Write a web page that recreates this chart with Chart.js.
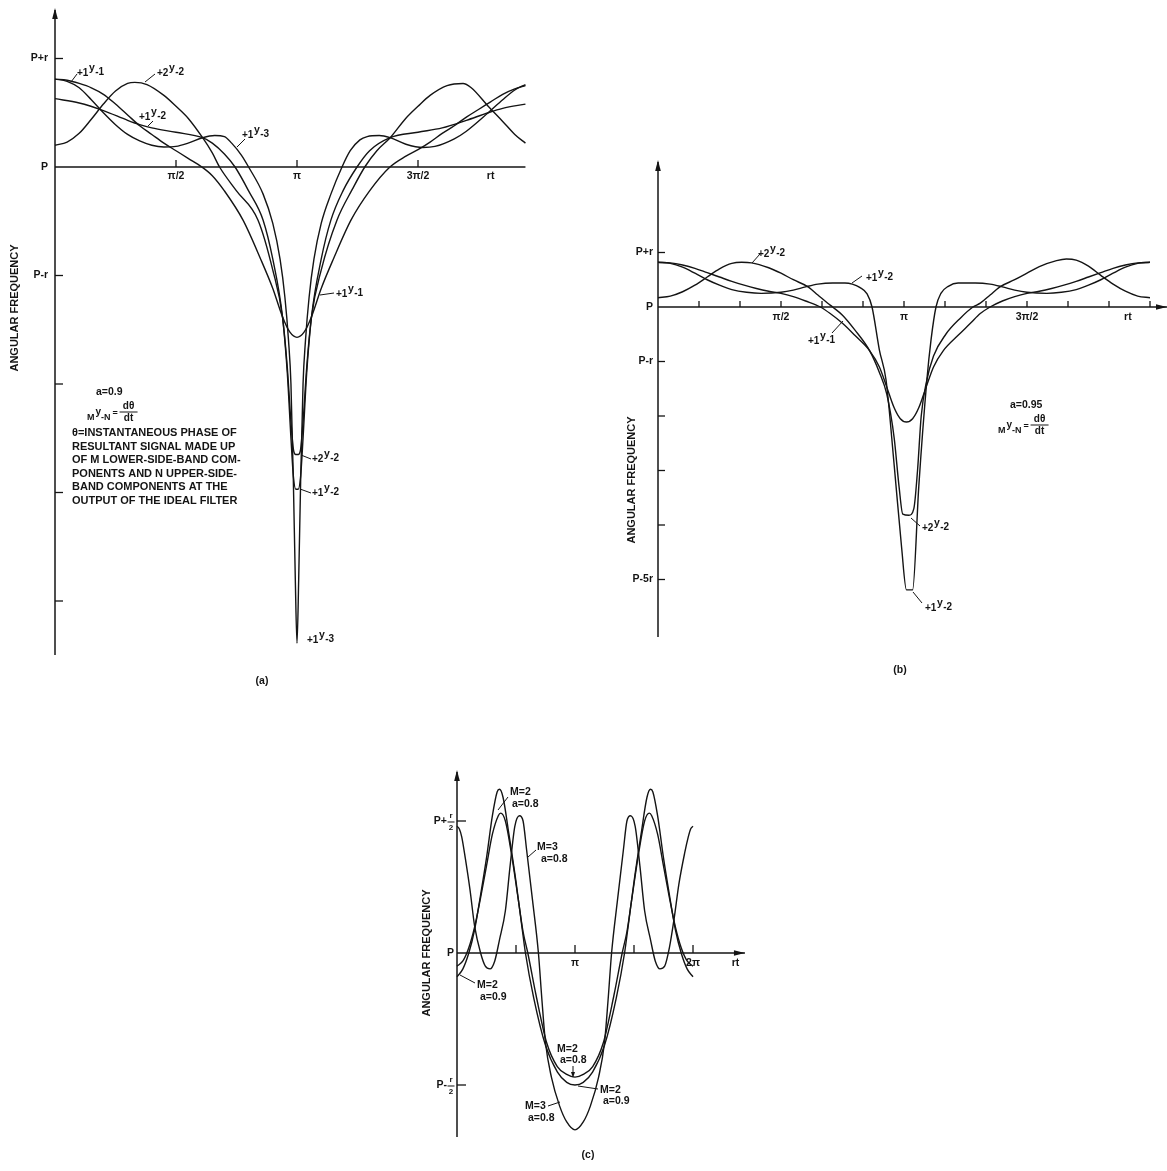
<!DOCTYPE html>
<html><head><meta charset="utf-8">
<script src="https://cdn.jsdelivr.net/npm/chart.js@4.4.1/dist/chart.umd.min.js"></script>
<style>
html,body{margin:0;padding:0;background:#fff;width:1167px;height:1171px;overflow:hidden;}
canvas{position:absolute;}
</style></head><body>
<canvas id="ca" width="560" height="700" style="left:0;top:0"></canvas>
<canvas id="cb" width="567" height="560" style="left:600px;top:140px"></canvas>
<canvas id="cc" width="360" height="411" style="left:400px;top:760px"></canvas>
<script>
// ===== Panel (a): a = 0.9  (x in units of pi, y in units of r about P) =====
const a_t_y11 = [0,0.05,0.1,0.15,0.2,0.25,0.3,0.35,0.4,0.45,0.5,0.55,0.607,0.65,0.7,0.777,0.85,0.9,0.94,0.97,1.0,1.03,1.06,1.1,1.15,1.223,1.3,1.384,1.45,1.5,1.55,1.6,1.65,1.7,1.75,1.8,1.85,1.9,1.944];
const a_v_y11 = [0.81,0.80,0.77,0.73,0.67,0.58,0.48,0.38,0.30,0.22,0.15,0.08,0.0,-0.08,-0.22,-0.49,-0.85,-1.12,-1.38,-1.52,-1.57,-1.52,-1.38,-1.12,-0.85,-0.49,-0.22,0.0,0.1,0.16,0.23,0.31,0.38,0.46,0.53,0.6,0.67,0.72,0.75];
const a_t_y12 = [0,0.1,0.2,0.3,0.35,0.4,0.5,0.61,0.65,0.7,0.744,0.8,0.86,0.9,0.94,0.96,0.975,0.985,0.995,1.005,1.015,1.025,1.04,1.06,1.1,1.14,1.19,1.248,1.3,1.385,1.5,1.6,1.7,1.79,1.85,1.944];
const a_v_y12 = [0.63,0.59,0.52,0.43,0.39,0.36,0.32,0.27,0.22,0.12,0.0,-0.22,-0.49,-0.85,-1.38,-1.9,-2.5,-2.85,-2.97,-2.97,-2.85,-2.5,-1.9,-1.38,-0.85,-0.49,-0.22,0.0,0.15,0.27,0.32,0.36,0.43,0.5,0.54,0.58];
const a_t_y22 = [0,0.05,0.1,0.15,0.2,0.25,0.3,0.33,0.38,0.45,0.5,0.55,0.61,0.65,0.68,0.75,0.839,0.9,0.94,0.96,0.975,0.985,0.995,1.005,1.015,1.025,1.04,1.06,1.1,1.165,1.23,1.28,1.33,1.385,1.45,1.5,1.55,1.62,1.686,1.72,1.79,1.85,1.9,1.944];
const a_v_y22 = [0.2,0.23,0.31,0.44,0.58,0.7,0.77,0.78,0.76,0.66,0.56,0.45,0.27,0.13,0.0,-0.22,-0.49,-0.95,-1.38,-1.85,-2.35,-2.6,-2.65,-2.65,-2.6,-2.35,-1.85,-1.38,-0.95,-0.49,-0.2,0.0,0.15,0.27,0.45,0.56,0.66,0.75,0.77,0.73,0.56,0.42,0.3,0.22];
const a_t_y13 = [0,0.05,0.1,0.15,0.2,0.25,0.3,0.35,0.4,0.45,0.5,0.55,0.61,0.66,0.7,0.73,0.77,0.8,0.86,0.9,0.93,0.95,0.965,0.975,0.985,0.993,1.0,1.007,1.015,1.025,1.035,1.05,1.07,1.1,1.14,1.186,1.22,1.26,1.29,1.34,1.385,1.45,1.52,1.57,1.65,1.7,1.79,1.85,1.9,1.944];
const a_v_y13 = [0.81,0.79,0.73,0.62,0.5,0.39,0.3,0.24,0.2,0.185,0.19,0.22,0.27,0.29,0.28,0.22,0.11,0.0,-0.25,-0.52,-0.85,-1.2,-1.6,-2.0,-2.9,-3.8,-4.39,-3.8,-2.9,-2.0,-1.6,-1.2,-0.85,-0.52,-0.25,0.0,0.15,0.25,0.28,0.29,0.27,0.21,0.18,0.19,0.26,0.33,0.5,0.62,0.71,0.76];
const a_xTicks = [0.5,1,1.5];
const a_xLabels = ['π/2','π','3π/2'];
const a_yTicks = [1,0,-1,-2,-3,-4];
const a_yLabels = ['P+r','P','P-r','','',''];

// ===== Panel (b): a = 0.95 =====
const b_t_y11 = [0,0.05,0.1,0.15,0.2,0.25,0.3,0.35,0.4,0.45,0.5,0.55,0.6,0.66,0.7,0.75,0.8,0.86,0.9,0.93,0.96,0.985,1.01,1.035,1.06,1.09,1.12,1.16,1.22,1.27,1.31,1.35,1.4,1.45,1.5,1.55,1.6,1.65,1.7,1.75,1.8,1.85,1.9,1.95,2.0];
const b_v_y11 = [0.82,0.81,0.77,0.71,0.63,0.55,0.47,0.4,0.34,0.29,0.25,0.19,0.11,0.0,-0.12,-0.3,-0.52,-0.8,-1.1,-1.47,-1.85,-2.05,-2.11,-2.05,-1.85,-1.47,-1.1,-0.8,-0.52,-0.3,-0.12,0.0,0.11,0.19,0.25,0.29,0.34,0.4,0.47,0.55,0.63,0.71,0.77,0.81,0.82];
const b_t_y12 = [0,0.05,0.1,0.15,0.2,0.25,0.3,0.36,0.42,0.5,0.55,0.6,0.65,0.71,0.76,0.79,0.82,0.85,0.87,0.9,0.927,0.96,0.99,1.01,1.035,1.06,1.093,1.11,1.13,1.15,1.18,1.22,1.29,1.35,1.4,1.45,1.5,1.58,1.64,1.7,1.75,1.8,1.85,1.9,1.95,2.0];
const b_v_y12 = [0.82,0.8,0.73,0.62,0.5,0.4,0.32,0.27,0.25,0.27,0.31,0.37,0.42,0.44,0.44,0.42,0.36,0.24,0.0,-0.79,-1.34,-2.9,-4.4,-5.19,-5.19,-3.3,-1.34,-0.6,0.0,0.25,0.38,0.44,0.44,0.42,0.37,0.31,0.27,0.25,0.27,0.32,0.4,0.5,0.62,0.73,0.8,0.82];
const b_t_y22 = [0,0.05,0.1,0.15,0.2,0.25,0.3,0.34,0.38,0.45,0.5,0.55,0.61,0.65,0.69,0.71,0.75,0.8,0.86,0.9,0.93,0.96,0.98,0.995,1.02,1.04,1.055,1.07,1.09,1.12,1.17,1.23,1.28,1.31,1.35,1.39,1.45,1.5,1.55,1.62,1.66,1.7,1.75,1.8,1.85,1.9,1.95,2.0];
const b_v_y22 = [0.17,0.2,0.28,0.4,0.55,0.7,0.8,0.82,0.81,0.72,0.62,0.5,0.37,0.22,0.07,0.0,-0.15,-0.42,-0.8,-1.2,-1.6,-2.4,-3.3,-3.8,-3.82,-3.7,-3.0,-2.0,-1.4,-0.9,-0.5,-0.2,0.0,0.07,0.22,0.37,0.5,0.62,0.74,0.85,0.88,0.86,0.75,0.58,0.42,0.29,0.2,0.17];
const b_xTicks = [1/6,2/6,3/6,4/6,5/6,1,7/6,8/6,9/6,10/6,11/6,2];
const b_xLabels = ['','','π/2','','','π','','','3π/2','','',''];
const b_yTicks = [1,0,-1,-2,-3,-4,-5];
const b_yLabels = ['P+r','P','P-r','','','','P-5r'];

// ===== Panel (c) =====
const c_t_m3a08 = [0,0.02,0.04,0.07,0.11,0.15,0.2,0.24,0.28,0.32,0.36,0.41,0.45,0.49,0.53,0.56,0.59,0.64,0.69,0.72,0.75,0.8,0.87,0.93,1.0,1.07,1.13,1.2,1.25,1.28,1.31,1.36,1.41,1.44,1.47,1.51,1.55,1.59,1.64,1.68,1.72,1.76,1.8,1.84,1.88,1.93,1.96,1.98,2.0];
const c_v_m3a08 = [0.48,0.47,0.44,0.36,0.24,0.1,0.0,-0.05,-0.06,-0.03,0.05,0.16,0.33,0.48,0.52,0.5,0.39,0.2,0.0,-0.18,-0.34,-0.47,-0.58,-0.64,-0.67,-0.64,-0.58,-0.47,-0.34,-0.18,0.0,0.2,0.39,0.5,0.52,0.48,0.33,0.16,0.05,-0.03,-0.06,-0.05,0.02,0.13,0.26,0.38,0.44,0.47,0.48];
const c_t_m2a09 = [0,0.05,0.1,0.15,0.2,0.25,0.3,0.34,0.36,0.39,0.44,0.5,0.55,0.58,0.65,0.75,0.85,0.93,1.0,1.07,1.15,1.25,1.35,1.42,1.45,1.5,1.56,1.61,1.64,1.66,1.7,1.75,1.8,1.85,1.9,1.95,2.0];
const c_v_m2a09 = [-0.09,-0.06,0.0,0.09,0.22,0.36,0.52,0.61,0.62,0.59,0.45,0.27,0.1,0.0,-0.17,-0.35,-0.45,-0.49,-0.5,-0.49,-0.45,-0.35,-0.17,0.0,0.1,0.27,0.45,0.59,0.62,0.61,0.52,0.36,0.22,0.09,0.0,-0.06,-0.09];
const c_t_m2a08 = [0,0.05,0.1,0.15,0.2,0.25,0.3,0.35,0.37,0.41,0.46,0.52,0.56,0.6,0.67,0.76,0.85,0.93,1.0,1.07,1.15,1.24,1.33,1.4,1.44,1.48,1.54,1.59,1.63,1.65,1.7,1.75,1.8,1.85,1.9,1.95,2.0];
const c_v_m2a08 = [-0.05,-0.03,0.02,0.1,0.21,0.33,0.45,0.52,0.53,0.5,0.38,0.2,0.08,0.0,-0.16,-0.34,-0.43,-0.46,-0.47,-0.46,-0.43,-0.34,-0.16,0.0,0.08,0.2,0.38,0.5,0.53,0.52,0.45,0.33,0.21,0.1,0.02,-0.03,-0.05];
const c_xTicks = [0.5,1,1.5,2];
const c_xLabels = ['','π','','2π'];
const c_yTicks = [0.5,0,-0.5];

const INK = '#141414';
const F = (s)=>'bold '+s+'px "Liberation Sans", Arial, sans-serif';

function pts(ts, vs){ return ts.map((t,i)=>({x:t, y:vs[i]})); }
function ds(ts, vs, label){
  return {label, data:pts(ts,vs), showLine:true, borderColor:INK, borderWidth:1.4,
    pointRadius:0, pointHoverRadius:0, cubicInterpolationMode:'monotone', clip:false, fill:false};
}
function seg(ctx,x1,y1,x2,y2,w){ ctx.lineWidth=w||1; ctx.beginPath(); ctx.moveTo(x1,y1); ctx.lineTo(x2,y2); ctx.stroke(); }
function txt(ctx,s,x,y,size,align){ ctx.font=F(size||10.5); ctx.textAlign=align||'left'; ctx.textBaseline='middle'; ctx.fillText(s,x,y); }
function yLab(ctx,pre,post,x,y){
  ctx.font=F(10); ctx.textAlign='left'; ctx.textBaseline='alphabetic';
  ctx.fillText(pre,x,y); const w=ctx.measureText(pre).width;
  ctx.font=F(10.5); ctx.fillText('y',x+w+0.5,y-5); const wy=ctx.measureText('y').width;
  ctx.font=F(10); ctx.fillText(post,x+w+wy+1,y-1);
}
function frac(ctx,num,den,cx,cy,w,size){
  txt(ctx,num,cx,cy-6,size,'center'); seg(ctx,cx-w/2,cy,cx+w/2,cy,1); txt(ctx,den,cx,cy+6,size,'center');
}
function arrowUp(ctx,x,y){ ctx.beginPath(); ctx.moveTo(x,y); ctx.lineTo(x-2.8,y+11); ctx.lineTo(x+2.8,y+11); ctx.closePath(); ctx.fill(); }
function arrowRight(ctx,x,y){ ctx.beginPath(); ctx.moveTo(x,y); ctx.lineTo(x-11,y-2.8); ctx.lineTo(x-11,y+2.8); ctx.closePath(); ctx.fill(); }
function vtext(ctx,s,x,y,size){ ctx.save(); ctx.translate(x,y); ctx.rotate(-Math.PI/2); txt(ctx,s,0,0,size,'center'); ctx.restore(); }
function formula(ctx,x,y){ // M y-N = dθ/dt  (x,y = baseline-centre of "M")
  ctx.font=F(9); ctx.textAlign='left'; ctx.textBaseline='middle';
  ctx.fillText('M',x,y); let w=ctx.measureText('M').width;
  ctx.font=F(10); ctx.fillText('y',x+w+1,y-6); let wy=ctx.measureText('y').width;
  ctx.font=F(9); ctx.fillText('-N',x+w+wy+1,y); let wn=ctx.measureText('-N').width;
  const ex=x+w+wy+wn+3; ctx.fillText('=',ex,y-4);
  frac(ctx,'dθ','dt',ex+16,y-6,18,10);
}

function makeChart(id, off, pad, xr, yr, datasets, axes, notes){
  return new Chart(document.getElementById(id), {
    type:'scatter', data:{datasets},
    options:{responsive:false, animation:false, devicePixelRatio:1, events:[],
      layout:{padding:pad},
      plugins:{legend:{display:false}, tooltip:{enabled:false}},
      scales:{x:{type:'linear', min:xr[0], max:xr[1], display:false},
              y:{type:'linear', min:yr[0], max:yr[1], display:false}}},
    plugins:[{id:'deco'+id,
      beforeDatasetsDraw(chart){ const c=chart.ctx; c.save(); c.translate(-off[0],-off[1]);
        const X=t=>chart.scales.x.getPixelForValue(t)+off[0], Y=v=>chart.scales.y.getPixelForValue(v)+off[1];
        c.strokeStyle=INK; c.fillStyle=INK; axes(c,X,Y,chart); c.restore(); },
      afterDatasetsDraw(chart){ const c=chart.ctx; c.save(); c.translate(-off[0],-off[1]);
        const X=t=>chart.scales.x.getPixelForValue(t)+off[0], Y=v=>chart.scales.y.getPixelForValue(v)+off[1];
        c.strokeStyle=INK; c.fillStyle=INK; notes(c,X,Y,chart); c.restore(); }
    }]
  });
}

function stdAxes(c,X,Y,chart,o){
  const x0=X(0), top=chart.chartArea.top+o.oy, bot=chart.chartArea.bottom+o.oy, y0=Y(0);
  seg(c,x0,top+2,x0,bot,1.5); arrowUp(c,x0,top);
  seg(c,x0,y0,X(o.xEnd),y0,1.5); if(o.arrowX) arrowRight(c,X(o.xEnd),y0);
  o.xTicks.forEach((t,i)=>{ seg(c,X(t),y0,X(t),y0-o.tl,1.3); if(o.xLabels[i]) txt(c,o.xLabels[i],X(t),y0+o.ldy,10.5,'center'); });
  if(o.rt) txt(c,'rt',X(o.rt),y0+o.ldy,10.5,'center');
  o.yTicks.forEach((v,i)=>{ if(v!==0) seg(c,x0,Y(v),x0+o.tl+1,Y(v),1.3); if(o.yLabels[i]) txt(c,o.yLabels[i],x0-o.ldx,Y(v),10.5,'right'); });
}

// ---------- (a) ----------
makeChart('ca',[0,0],{left:55,right:21,top:8,bottom:45},[0,2],[-4.4977,1.46544],
  [ds(a_t_y11,a_v_y11,'+1y-1'), ds(a_t_y12,a_v_y12,'+1y-2'), ds(a_t_y22,a_v_y22,'+2y-2'), ds(a_t_y13,a_v_y13,'+1y-3')],
  (c,X,Y,ch)=>stdAxes(c,X,Y,ch,{oy:0,xEnd:1.944,arrowX:false,xTicks:a_xTicks,xLabels:a_xLabels,tl:7,ldy:9,rt:1.8,yTicks:a_yTicks,yLabels:a_yLabels,ldx:7}),
  (c,X,Y)=>{
    yLab(c,'+1','-1',77,76); seg(c,71,82,77,74,1);
    yLab(c,'+2','-2',157,76); seg(c,145,82,155,74,1);
    yLab(c,'+1','-2',139,120); seg(c,148,126,153,121,1);
    yLab(c,'+1','-3',242,138); seg(c,237,147,245,139,1);
    yLab(c,'+1','-1',336,297); seg(c,320,295,334,293,1);
    yLab(c,'+2','-2',312,462); seg(c,301,455,311,459,1);
    yLab(c,'+1','-2',312,496); seg(c,300,489,311,493,1);
    yLab(c,'+1','-3',307,643);
    txt(c,'a=0.9',96,392,10.5);
    formula(c,87,418);
    const lines=['θ=INSTANTANEOUS PHASE OF','RESULTANT SIGNAL MADE UP','OF M LOWER-SIDE-BAND COM-','PONENTS AND N UPPER-SIDE-','BAND COMPONENTS AT THE','OUTPUT OF THE IDEAL FILTER'];
    lines.forEach((s,i)=>txt(c,s,72,433+i*13.6,11));
    txt(c,'(a)',262,681,10.5,'center');
    vtext(c,'ANGULAR FREQUENCY',15,308,11);
  });

// ---------- (b) ----------
makeChart('cb',[600,140],{left:58,right:17,top:20,bottom:63},[0,2],[-6.055,2.6972],
  [ds(b_t_y11,b_v_y11,'+1y-1'), ds(b_t_y12,b_v_y12,'+1y-2'), ds(b_t_y22,b_v_y22,'+2y-2')],
  (c,X,Y,ch)=>stdAxes(c,X,Y,ch,{oy:140,xEnd:2.069,arrowX:true,xTicks:b_xTicks,xLabels:b_xLabels,tl:6,ldy:10,rt:1.91,yTicks:b_yTicks,yLabels:b_yLabels,ldx:5}),
  (c,X,Y)=>{
    yLab(c,'+2','-2',758,257); seg(c,752,263,760,254,1);
    yLab(c,'+1','-2',866,281); seg(c,852,283,862,276,1);
    yLab(c,'+1','-1',808,344); seg(c,832,333,843,321,1);
    yLab(c,'+2','-2',922,531); seg(c,911,518,920,526,1);
    yLab(c,'+1','-2',925,611); seg(c,913,592,922,603,1);
    txt(c,'a=0.95',1010,405,10.5);
    formula(c,998,431);
    txt(c,'(b)',900,670,10.5,'center');
    vtext(c,'ANGULAR FREQUENCY',632,480,11);
  });

// ---------- (c) ----------
makeChart('cc',[400,760],{left:57,right:67,top:10,bottom:34},[0,2],[-0.69697,0.69318],
  [ds(c_t_m2a08,c_v_m2a08,'M=2 a=0.8'), ds(c_t_m3a08,c_v_m3a08,'M=3 a=0.8'), ds(c_t_m2a09,c_v_m2a09,'M=2 a=0.9')],
  (c,X,Y,ch)=>{
    stdAxes(c,X,Y,ch,{oy:760,xEnd:2.44,arrowX:true,xTicks:c_xTicks,xLabels:c_xLabels,tl:8,ldy:10,rt:2.36,yTicks:c_yTicks,yLabels:['','P',''],ldx:3});
    const x0=X(0);
    txt(c,'P+',447,Y(0.5),10.5,'right'); frac(c,'r','2',451,Y(0.5)+1,7,8);
    txt(c,'P-',447,Y(-0.5),10.5,'right'); frac(c,'r','2',451,Y(-0.5)+1,7,8);
  },
  (c,X,Y)=>{
    txt(c,'M=2',510,792); txt(c,'a=0.8',512,804); seg(c,498,810,508,797,1);
    txt(c,'M=3',537,847); txt(c,'a=0.8',541,859); seg(c,528,857,536,850,1);
    txt(c,'M=2',477,985); txt(c,'a=0.9',480,997); seg(c,460,975,475,983,1);
    txt(c,'M=2',557,1049); txt(c,'a=0.8',560,1060); seg(c,573,1066,573,1075,1);
    c.beginPath(); c.moveTo(573,1078); c.lineTo(571,1072); c.lineTo(575,1072); c.closePath(); c.fill();
    txt(c,'M=2',600,1090); txt(c,'a=0.9',603,1101); seg(c,578,1086,598,1089,1);
    txt(c,'M=3',525,1106); txt(c,'a=0.8',528,1118); seg(c,548,1106,560,1102,1);
    txt(c,'(c)',588,1155,10.5,'center');
    vtext(c,'ANGULAR FREQUENCY',427,953,11);
  });
</script>
</body></html>
